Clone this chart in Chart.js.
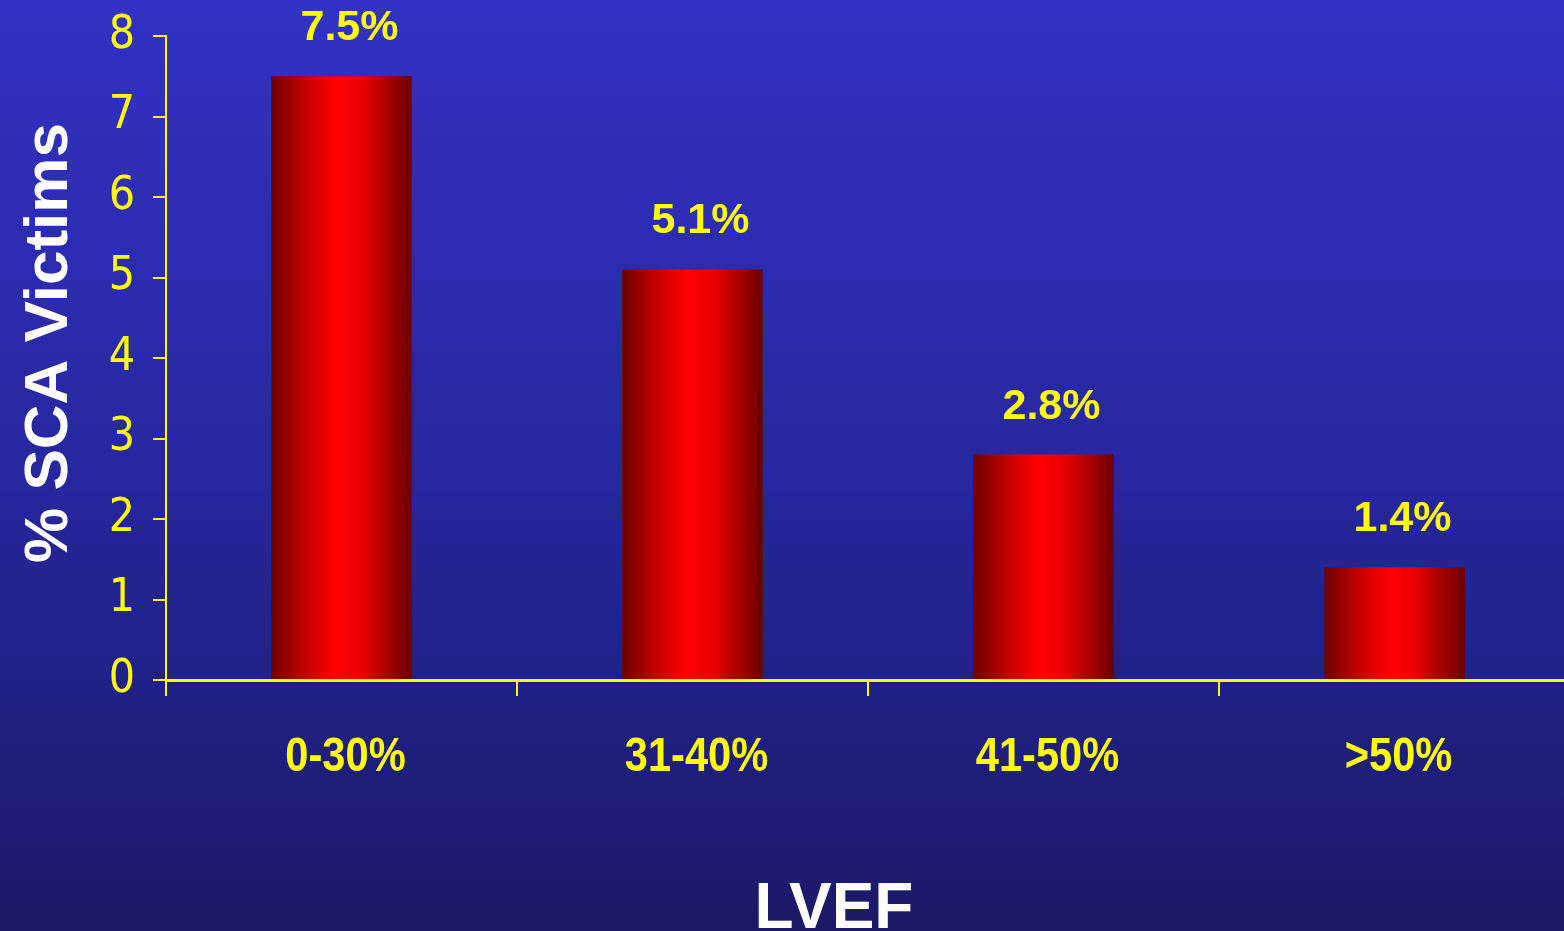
<!DOCTYPE html>
<html>
<head>
<meta charset="utf-8">
<script src="https://cdn.jsdelivr.net/npm/chart.js@4"></script>
<style>
html,body{margin:0;padding:0;overflow:hidden;background:#22228a;}
#wrap{width:1570px;height:931px;}
</style>
</head>
<body>
<div id="wrap"><canvas id="c" width="1570" height="931"></canvas></div>
<script>
const categories = ['0-30%', '31-40%', '41-50%', '>50%'];
const values = [7.5, 5.1, 2.8, 1.4];
const valueLabels = ['7.5%', '5.1%', '2.8%', '1.4%'];
const yTitle = '% SCA Victims';
const xTitle = 'LVEF';

const YELLOW = '#ffff00';
const NARROW = "'Liberation Sans Narrow', 'DejaVu Sans Condensed', 'Arial Narrow', sans-serif";
const SANS = "'Liberation Sans', Arial, sans-serif";
const BAR_PCT = 0.4;

const bgPlugin = {
  id: 'bg',
  beforeDraw(chart) {
    const ctx = chart.ctx;
    const g = ctx.createLinearGradient(0, 0, 0, chart.height);
    g.addColorStop(0, '#3232c4');
    g.addColorStop(0.5, '#2727a0');
    g.addColorStop(1, '#1b1966');
    ctx.save();
    ctx.fillStyle = g;
    ctx.fillRect(0, 0, chart.width, chart.height);
    ctx.restore();
  }
};

const labelPlugin = {
  id: 'labels',
  afterDraw(chart) {
    const ctx = chart.ctx;
    const meta = chart.getDatasetMeta(0);
    const xs = chart.scales.x;
    ctx.save();
    ctx.fillStyle = YELLOW;
    ctx.font = 'bold 43px ' + SANS;
    ctx.textAlign = 'center';
    ctx.textBaseline = 'alphabetic';
    meta.data.forEach((bar, i) => {
      ctx.fillText(valueLabels[i], bar.x + 8, bar.y - 36);
    });
    // category labels, narrow bold (Arial Narrow look)
    ctx.font = 'bold 49px ' + SANS;
    categories.forEach((c, i) => {
      const px = xs.getPixelForValue(i);
      ctx.save();
      ctx.translate(px + 4, 771);
      ctx.scale(0.85, 1);
      ctx.fillText(c, 0, 0);
      ctx.restore();
    });
    // axis titles
    ctx.fillStyle = '#ffffff';
    ctx.font = 'bold 62px ' + SANS;
    ctx.save();
    ctx.translate(67, 343);
    ctx.rotate(-Math.PI / 2);
    ctx.textAlign = 'center';
    ctx.fillText(yTitle, 0, 0);
    ctx.restore();
    ctx.textAlign = 'center';
    ctx.font = 'bold 64px ' + SANS;
    ctx.fillText(xTitle, 834, 928);
    ctx.restore();
  }
};

function barGradient(context) {
  const chart = context.chart;
  const xs = chart.scales && chart.scales.x;
  if (!xs || !chart.chartArea) return '#ff0000';
  const cx = xs.getPixelForValue(context.dataIndex);
  const w = (xs.width / categories.length) * BAR_PCT;
  const g = chart.ctx.createLinearGradient(cx - w / 2, 0, cx + w / 2, 0);
  g.addColorStop(0, '#6e0000');
  g.addColorStop(0.28, '#d00000');
  g.addColorStop(0.47, '#ff0000');
  g.addColorStop(0.65, '#e80000');
  g.addColorStop(1, '#6a0000');
  return g;
}

new Chart(document.getElementById('c'), {
  type: 'bar',
  data: {
    labels: categories,
    datasets: [{
      data: values,
      backgroundColor: barGradient,
      borderWidth: 0,
      barPercentage: BAR_PCT,
      categoryPercentage: 1.0
    }]
  },
  options: {
    responsive: false,
    animation: false,
    events: [],
    layout: { padding: { top: 36, right: 0, left: 0, bottom: 0 } },
    plugins: { legend: { display: false }, tooltip: { enabled: false } },
    scales: {
      x: {
        grid: {
          display: true,
          drawOnChartArea: false,
          drawTicks: true,
          tickLength: 16,
          color: YELLOW,
          lineWidth: 2,
          offset: true
        },
        border: { display: true, color: YELLOW, width: 3 },
        ticks: {
          color: 'rgba(0,0,0,0)',
          font: { family: SANS, size: 10, weight: 'bold', lineHeight: 0.3 },
          padding: 26,
          maxRotation: 0
        },
        afterFit(scale) { scale.height = 251; }
      },
      y: {
        min: 0,
        max: 8,
        grid: {
          display: true,
          drawOnChartArea: false,
          drawTicks: true,
          tickLength: 13,
          color: YELLOW,
          lineWidth: 2
        },
        border: { display: true, color: YELLOW, width: 2 },
        ticks: {
          stepSize: 1,
          color: YELLOW,
          font: { family: NARROW, size: 46, lineHeight: 0.3 },
          padding: 18
        },
        afterFit(scale) { scale.width = 166; }
      }
    }
  },
  plugins: [bgPlugin, labelPlugin]
});
</script>
</body>
</html>
